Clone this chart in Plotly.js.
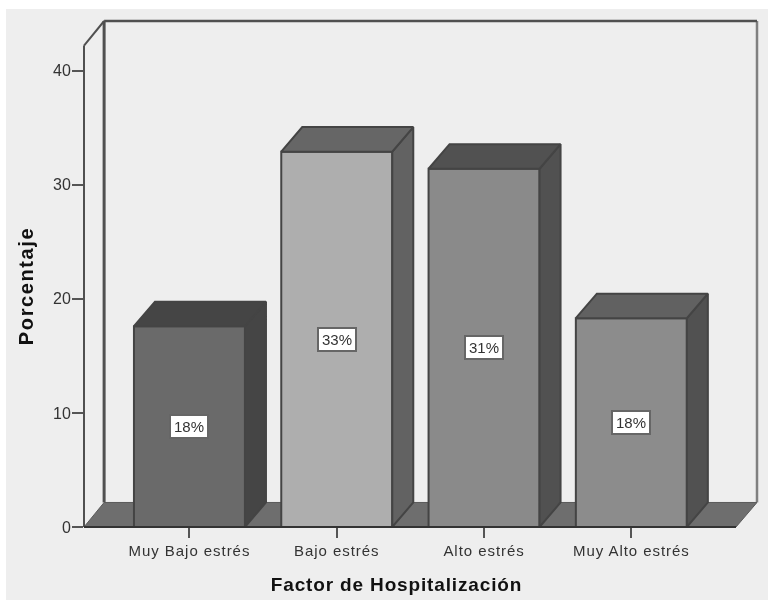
<!DOCTYPE html>
<html><head><meta charset="utf-8">
<script src="https://cdn.plot.ly/plotly-3.0.1.min.js"></script>
<style>
html,body{margin:0;padding:0;background:#fff;}
#chart{position:absolute;left:6px;top:9px;width:762px;height:591px;filter:blur(0.55px);}
.xtick text{letter-spacing:0.95px;}
.xtitle{letter-spacing:0.85px;}
.ytitle{letter-spacing:1.6px;}
.g-xtitle{transform:translate(-24px,5px);}
.g-ytitle{transform:translate(0px,12px);}
</style></head><body><div id="chart"></div>
<script>
const categories = ['Muy Bajo estrés','Bajo estrés','Alto estrés','Muy Alto estrés'];
const porcentaje = [17.6, 32.9, 31.4, 18.3];
const barLabels = ['18%','33%','31%','18%'];
const frontColors = ['#6a6a6a','#aeaeae','#8a8a8a','#8c8c8c'];
const sideColors = ['#454545','#626262','#515151','#515151'];
const topColors = ['#454545','#666666','#515151','#616161'];
const positions = [0,1,2,3];
const barWidth = 0.7536, depthX = 0.1426, depthY = 2.15;
const xMin = -0.716, xMax = 3.853, yMax = 44.35;
const edge = '#444444';
const wallX = xMin+depthX-0.006;
const xRightFront = xMax-depthX;

const traces = [{
  type:'bar', x:positions, y:porcentaje, width:barWidth,
  marker:{color:frontColors, line:{color:edge,width:2}}, hoverinfo:'skip'
}];
positions.forEach((p,i)=>{
  const l=p-barWidth/2, r=p+barWidth/2, v=porcentaje[i];
  traces.push({type:'scatter',mode:'lines',fill:'toself',fillcolor:sideColors[i],
    x:[r,r+depthX,r+depthX,r,r],y:[0,depthY,v+depthY,v,0],line:{color:edge,width:2},hoverinfo:'skip'});
  traces.push({type:'scatter',mode:'lines',fill:'toself',fillcolor:topColors[i],
    x:[l,l+depthX,r+depthX,r,l],y:[v,v+depthY,v+depthY,v,v],line:{color:edge,width:2},hoverinfo:'skip'});
});

// frame lines in plot-fraction coordinates so they are not clipped at the plot edge
const fx = x => (x-xMin)/(xMax-xMin);
const fy = y => y/yMax;
const pline = (x0,y0,x1,y1,color,width) => ({type:'line',layer:'below',xref:'paper',yref:'paper',
  x0:fx(x0),y0:fy(y0),x1:fx(x1),y1:fy(y1),line:{color,width}});
const shapes = [
 {type:'path',layer:'below',path:`M ${xMin} 0 L ${wallX} ${depthY} L ${xMax} ${depthY} L ${xRightFront} 0 Z`,
  fillcolor:'#6e6e6e',line:{color:'#5a5a5a',width:1}},
 pline(xMax,depthY,xMax,yMax,'#808080',2.5),
 pline(wallX,depthY,wallX,yMax,'#505050',3),
 pline(xMin,0,xMin,yMax-depthY,'#505050',2),
 pline(xMin,yMax-depthY,wallX,yMax,'#505050',2),
 pline(wallX,yMax,xMax,yMax,'#505050',2.5),
 pline(xMin,0,xRightFront,0,'#333333',2)
];
shapes[shapes.length-1].layer='above';

const annotations = positions.map((p,i)=>({
  x:p,y:porcentaje[i]/2,text:barLabels[i],showarrow:false,
  font:{family:'Liberation Sans',size:15,color:'#333333'},
  bgcolor:'#ffffff',bordercolor:'#666666',borderwidth:2,borderpad:0,width:36,height:21
}));

Plotly.newPlot('chart',traces,{
  width:762,height:591,
  paper_bgcolor:'#eeeeee',plot_bgcolor:'#eeeeee',
  showlegend:false,hovermode:false,
  margin:{l:78,r:11,t:12,b:73,pad:0},
  font:{family:'Liberation Sans',color:'#333333'},
  xaxis:{type:'linear',range:[xMin,xMax],tickmode:'array',tickvals:positions,ticktext:categories,
    showgrid:false,zeroline:false,showline:false,ticks:'outside',ticklen:10,tickwidth:2,tickcolor:'#555555',
    tickfont:{size:15,color:'#333333'},
    title:{text:'Factor de Hospitalización',font:{size:19,color:'#111111',weight:'bold'},standoff:14}},
  yaxis:{range:[0,yMax],tickmode:'array',tickvals:[0,10,20,30,40],
    showgrid:false,zeroline:false,showline:false,ticks:'outside',ticklen:11,tickwidth:2,tickcolor:'#555555',
    tickfont:{size:16,color:'#333333'},ticklabelstandoff:-2,
    title:{text:'Porcentaje',font:{size:20,color:'#111111',weight:'bold'},standoff:14}},
  shapes,annotations,bargap:0
},{displayModeBar:false,staticPlot:true});
</script></body></html>
